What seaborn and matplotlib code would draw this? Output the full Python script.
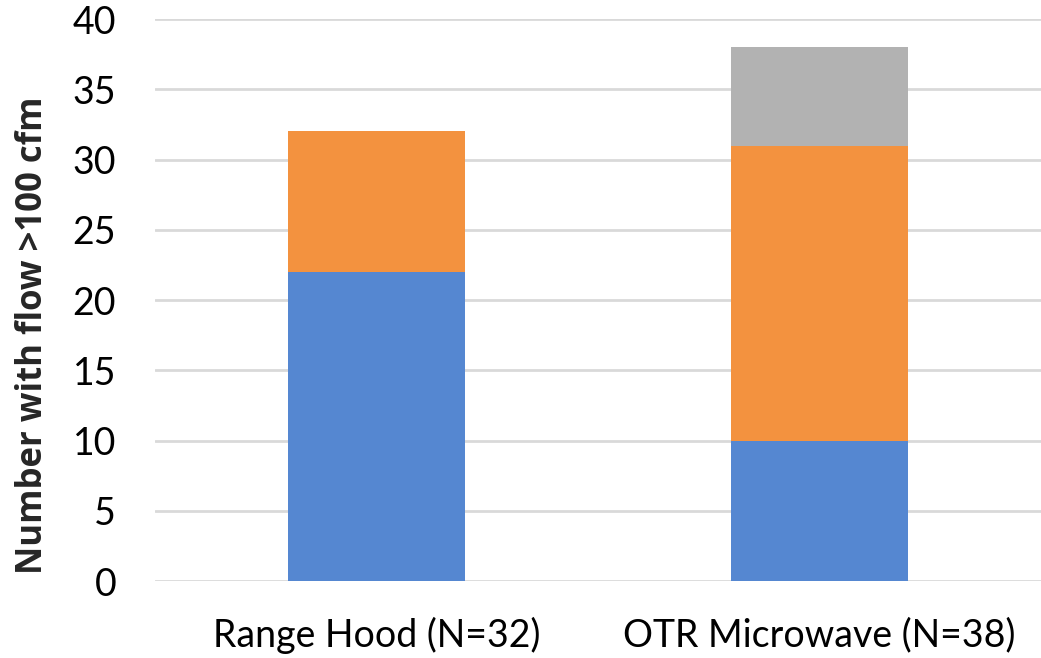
import matplotlib
matplotlib.use("Agg")
import matplotlib.pyplot as plt
import seaborn as sns
import pandas as pd

categories = ["Range Hood (N=32)", "OTR Microwave (N=38)"]
series1 = [22, 10]
series2 = [10, 21]
series3 = [0, 7]

colors = ["#5587D1", "#F3923F", "#B2B2B2"]

sns.set_style("white")
plt.rcParams['font.family'] = ['Lato', 'DejaVu Sans']

fig = plt.figure(figsize=(10.41, 6.58), dpi=100)
ax = fig.add_axes([0.149, 0.117, 0.851, 0.854])

df = pd.DataFrame({"cat": categories, "s1": series1, "s2": series2, "s3": series3})
bottom2 = [a for a in series1]
bottom3 = [a + b for a, b in zip(series1, series2)]

sns.barplot(data=df, x="cat", y="s1", color=colors[0], width=0.4, ax=ax, saturation=1, zorder=3, linewidth=0)
sns.barplot(data=df, x="cat", y="s2", bottom=bottom2, color=colors[1], width=0.4, ax=ax, saturation=1, zorder=3, linewidth=0)
sns.barplot(data=df, x="cat", y="s3", bottom=bottom3, color=colors[2], width=0.4, ax=ax, saturation=1, zorder=3, linewidth=0)

ax.set_ylim(0, 40)
ax.set_xlim(-0.5, 1.5)
ax.set_yticks(range(0, 41, 5))
ax.yaxis.grid(True, color="#D9D9D9", linewidth=2, zorder=0)
ax.set_axisbelow(True)
for s in ax.spines.values():
    s.set_visible(False)
ax.tick_params(axis="both", length=0, colors="black")
ax.tick_params(axis="y", pad=28, labelsize=27)
ax.tick_params(axis="x", pad=26, labelsize=27)
ax.set_xlabel("")
ax.set_ylabel("Number with flow >100 cfm", fontsize=25, fontweight="bold",
              family=["Open Sans", "DejaVu Sans"])
ax.yaxis.set_label_coords(-0.118, 0.438)

fig.savefig("out.png", dpi=100)
